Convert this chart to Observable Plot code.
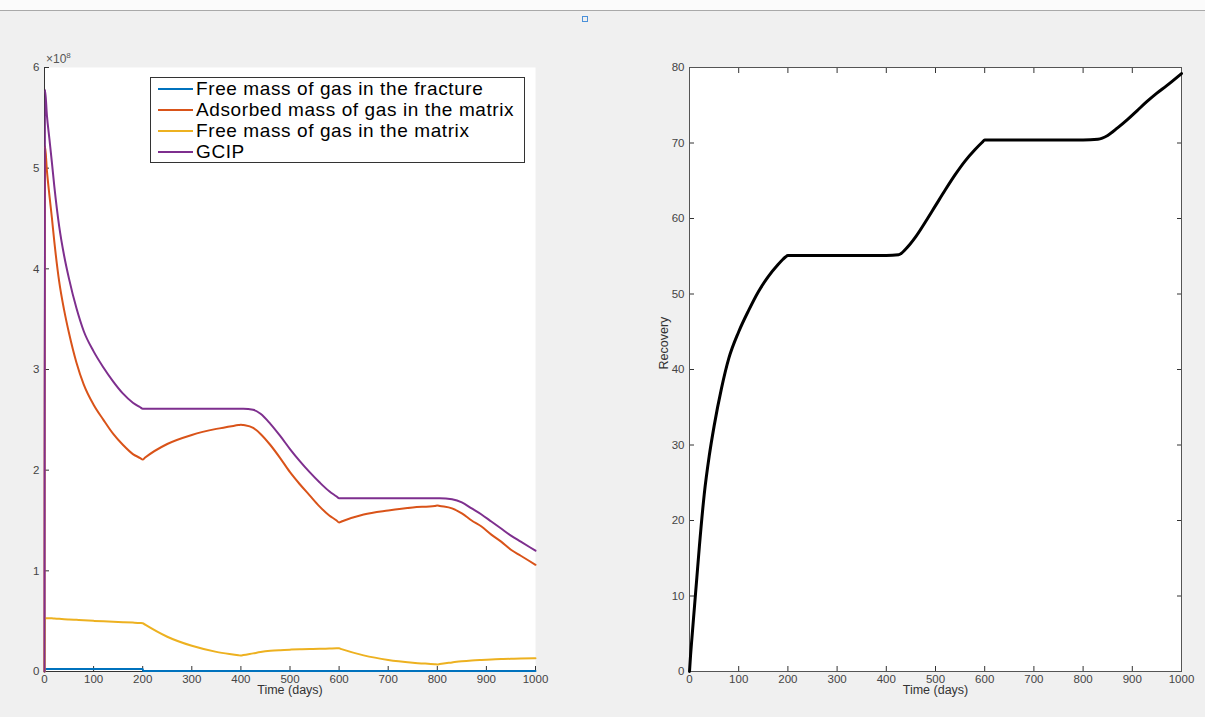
<!DOCTYPE html>
<html><head><meta charset="utf-8">
<script src="https://cdn.jsdelivr.net/npm/d3@7"></script>
<script src="https://cdn.jsdelivr.net/npm/@observablehq/plot@0.6"></script>
<style>
html,body{margin:0;padding:0;background:#f0f0f0;}
#page{position:relative;width:1205px;height:717px;overflow:hidden;font-family:"Liberation Sans",Arial,Helvetica,sans-serif;background:#f0f0f0;}
#topbar{position:absolute;left:0;top:0;width:1205px;height:10px;background:#fbfbfb;border-bottom:1px solid #a9a9a9;}
#icon{position:absolute;left:582px;top:16px;width:4px;height:4px;border:1px solid #4a90d9;}
#left,#right{position:absolute;top:0;}
#left{left:0;} #right{left:600px;}
#exp{position:absolute;left:46px;top:51px;font-size:12px;color:#555;}
#exp sup{font-size:8px;}
#legend{position:absolute;left:150px;top:77px;width:373px;height:84px;border:1px solid #333;background:#fff;}
.row{position:relative;height:21px;font-size:19px;line-height:21px;color:#000;letter-spacing:0.6px;}
.row .sw{position:absolute;left:7px;top:10px;width:35px;height:2px;}
.row .tx{position:absolute;left:45px;top:0;white-space:nowrap;}
</style></head>
<body><div id="page">
<div id="topbar"></div><div id="icon"></div>
<div id="left"></div><div id="right"></div>
<div id="exp">×10<sup>8</sup></div>
<div id="legend"></div>
</div>
<script>
// ---- data ----
const xTicks = [0,100,200,300,400,500,600,700,800,900,1000];
const massTicks = [0,1,2,3,4,5,6];          // ×10^8
const recoveryTicks = [0,10,20,30,40,50,60,70,80];

const days = [0,1,5,10,15,20,30,40,50,65,80,100,120,140,160,180,195,200,205,250,300,350,395,400,405,425,440,460,480,500,520,540,560,580,595,600,605,650,700,750,795,800,805,830,850,870,890,910,930,950,970,1000];
const gcip = [0,5.78,5.52,5.29,5.06,4.82,4.42,4.13,3.90,3.61,3.38,3.18,3.02,2.88,2.76,2.67,2.625,2.61,2.61,2.61,2.61,2.61,2.61,2.61,2.61,2.60,2.56,2.46,2.34,2.21,2.09,1.98,1.88,1.79,1.738,1.72,1.72,1.72,1.72,1.72,1.72,1.72,1.72,1.71,1.68,1.62,1.56,1.49,1.42,1.35,1.29,1.20];
const adsorbedMatrix = [0,5.22,4.97,4.73,4.51,4.27,3.87,3.59,3.36,3.07,2.85,2.65,2.50,2.36,2.25,2.16,2.12,2.105,2.125,2.26,2.35,2.41,2.448,2.452,2.448,2.42,2.36,2.25,2.12,1.98,1.86,1.75,1.64,1.55,1.50,1.48,1.49,1.56,1.60,1.63,1.645,1.65,1.645,1.62,1.57,1.50,1.44,1.36,1.29,1.21,1.15,1.06];
const freeMatrix = [0,0.53,0.53,0.53,0.528,0.527,0.524,0.52,0.517,0.513,0.509,0.503,0.498,0.494,0.49,0.486,0.482,0.48,0.465,0.345,0.255,0.195,0.162,0.158,0.163,0.18,0.193,0.205,0.212,0.217,0.221,0.224,0.226,0.228,0.23,0.23,0.222,0.16,0.115,0.088,0.072,0.07,0.074,0.09,0.102,0.11,0.115,0.119,0.123,0.126,0.128,0.132];
const fractureDays = [0,1,200,201,1000];
const freeFracture = [0,0.025,0.025,0.004,0.004];

const recDays = [0,2,5,10,15,20,30,40,50,65,80,100,120,140,160,180,190,195,200,205,300,400,425,440,460,480,500,520,540,560,580,595,600,605,700,800,830,850,870,890,910,930,950,970,1000];
const recovery = [0,2,4.5,8.5,12.5,16.5,23.5,28.5,32.5,37.5,41.5,45.0,47.8,50.3,52.3,53.9,54.6,54.9,55.1,55.1,55.1,55.1,55.2,56.0,57.6,59.6,61.7,63.8,65.8,67.6,69.1,70.1,70.4,70.4,70.4,70.4,70.5,71.0,72.0,73.1,74.3,75.5,76.6,77.6,79.2];

const seriesNames = ["Free mass of gas in the fracture","Adsorbed mass of gas in the matrix","Free mass of gas in the matrix","GCIP"];
const seriesColors = ["#0072BD","#D95319","#EDB120","#7E2F8E"];

// ---- build ----
const toRows = (xs, ys) => xs.map((d,i) => ({day: d, value: ys[i]}));
const leftSeries = [
  toRows(fractureDays, freeFracture),
  toRows(days, adsorbedMatrix),
  toRows(days, freeMatrix),
  toRows(days, gcip)
];
const font = '"Liberation Sans",Arial,Helvetica,sans-serif';
const axisColor = "#333";
const fmt = d => String(d);

const left = Plot.plot({
  width: 600, height: 717,
  marginLeft: 44, marginRight: 65, marginTop: 67, marginBottom: 46,
  style: {background: "transparent", fontFamily: font, fontSize: "11.5px", color: "#444"},
  x: {domain: [0,1000]},
  y: {domain: [0,6]},
  marks: [
    Plot.frame({fill: "white", stroke: "none"}),
    Plot.ruleX([0], {stroke: axisColor}),
    Plot.ruleY([0], {stroke: axisColor}),
    Plot.axisX({ticks: xTicks, tickSize: -5, tickPadding: 8, tickFormat: fmt, label: null, stroke: axisColor}),
    Plot.axisY({ticks: massTicks, tickSize: -5, tickPadding: 10, tickFormat: fmt, label: null, stroke: axisColor}),
    ...leftSeries.map((rows, k) => Plot.line(rows, {x: "day", y: "value", stroke: seriesColors[k], strokeWidth: 2, curve: "monotone-x"})),
    Plot.text(["Time (days)"], {frameAnchor: "bottom", dy: 22, text: d => d, fontSize: 12.5, fill: "#333"})
  ]
});
document.getElementById("left").append(left);

const right = Plot.plot({
  width: 605, height: 717,
  marginLeft: 89, marginRight: 24, marginTop: 67, marginBottom: 46,
  style: {background: "transparent", fontFamily: font, fontSize: "11.5px", color: "#444"},
  x: {domain: [0,1000]},
  y: {domain: [0,80]},
  marks: [
    Plot.frame({fill: "white", stroke: "none"}),
    Plot.axisX({ticks: xTicks, tickSize: -5, tickPadding: 8, tickFormat: fmt, label: null, stroke: axisColor}),
    Plot.axisX({anchor: "top", ticks: xTicks, tickSize: -5, tickFormat: () => "", label: null, stroke: axisColor}),
    Plot.axisY({ticks: recoveryTicks, tickSize: -5, tickPadding: 10, tickFormat: fmt, label: null, stroke: axisColor}),
    Plot.axisY({anchor: "right", ticks: recoveryTicks, tickSize: -5, tickFormat: () => "", label: null, stroke: axisColor}),
    Plot.frame({stroke: "#555"}),
    Plot.line(toRows(recDays, recovery), {x: "day", y: "value", stroke: "#000", strokeWidth: 3, curve: "monotone-x"}),
    Plot.text(["Time (days)"], {frameAnchor: "bottom", dy: 22, text: d => d, fontSize: 12.5, fill: "#333"}),
    Plot.text(["Recovery"], {frameAnchor: "left", dx: -26, rotate: -90, text: d => d, fontSize: 12.5, fill: "#333"})
  ]
});
document.getElementById("right").append(right);

// legend
const lg = document.getElementById("legend");
seriesNames.forEach((name, k) => {
  const r = document.createElement("div"); r.className = "row";
  const s = document.createElement("div"); s.className = "sw"; s.style.background = seriesColors[k];
  const t = document.createElement("div"); t.className = "tx"; t.textContent = name;
  r.append(s, t); lg.append(r);
});
</script>
</body></html>
